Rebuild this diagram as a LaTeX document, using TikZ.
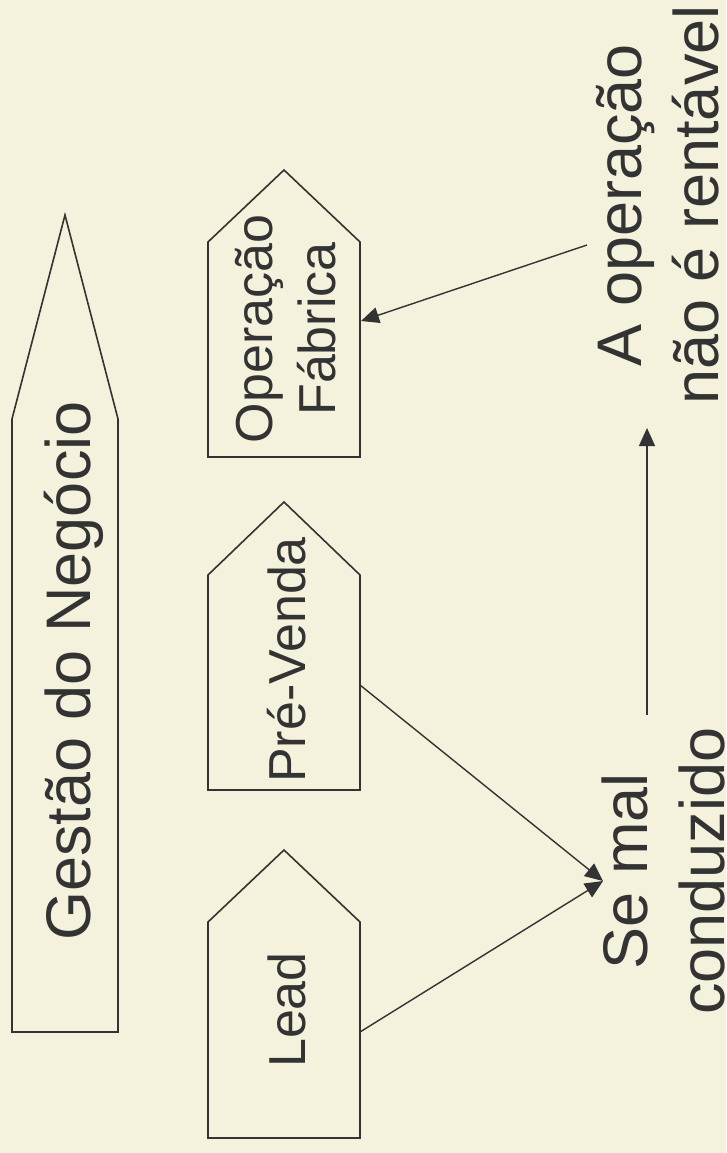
\documentclass[tikz,border=0pt]{standalone}
\usepackage{fontspec}
\setmainfont{Liberation Sans}
\usetikzlibrary{arrows.meta}
\definecolor{bg}{HTML}{F4F2DC}
\definecolor{ink}{HTML}{333333}
\begin{document}
\begin{tikzpicture}[x=1pt,y=-1pt,
  outline/.style={draw=ink, line width=1.6pt, line join=miter},
  lbl/.style={text=ink, inner sep=0pt, rotate=90, align=center, font=\fontsize{52}{63}\selectfont},
  big/.style={font=\fontsize{63}{77}\selectfont},
  conn/.style={draw=ink, line width=1.4pt, -{Triangle[length=18pt,width=16pt]}}]
\fill[bg] (0,0) rectangle (726,1153);
\useasboundingbox (0,0) rectangle (726,1153);
% shapes
\draw[outline] (12,1032) -- (12,419) -- (65,215) -- (118,419) -- (118,1032) -- cycle;
\draw[outline] (208,457) -- (208,242) -- (284,170) -- (360,242) -- (360,457) -- cycle;
\draw[outline] (208,790) -- (208,575) -- (284,502) -- (360,575) -- (360,790) -- cycle;
\draw[outline] (208,1138) -- (208,922) -- (284,850) -- (360,922) -- (360,1138) -- cycle;
% texts
\node[lbl, big, anchor=base] (gestao) at (90,671) {Gestão do Negócio};
\node[lbl, anchor=base] (lead) at (305,1010) {Lead};
\node[lbl, anchor=base] (prevenda) at (305,660) {Pré-Venda};
\node[lbl] (fabrica) at (285.5,329) {Operação\\Fábrica};
\node[lbl, big] (semal) at (663.5,871) {Se mal\\conduzido};
\node[lbl, big] (aoper) at (658,205) {A operação\\não é rentável};
% connector ends
\coordinate (preR) at (360,685);
\coordinate (leadR) at (360,1032);
\coordinate (semalIn) at (603,881);
\coordinate (vstart) at (647,715);
\coordinate (vend) at (647,428);
\coordinate (aoperOut) at (587,245);
\coordinate (fabR) at (361,321);
% connectors
\draw[conn] (preR) -- (semalIn);
\draw[conn] (leadR) -- (semalIn);
\draw[conn] (vstart) -- (vend);
\draw[conn] (aoperOut) -- (fabR);
\end{tikzpicture}
\end{document}
